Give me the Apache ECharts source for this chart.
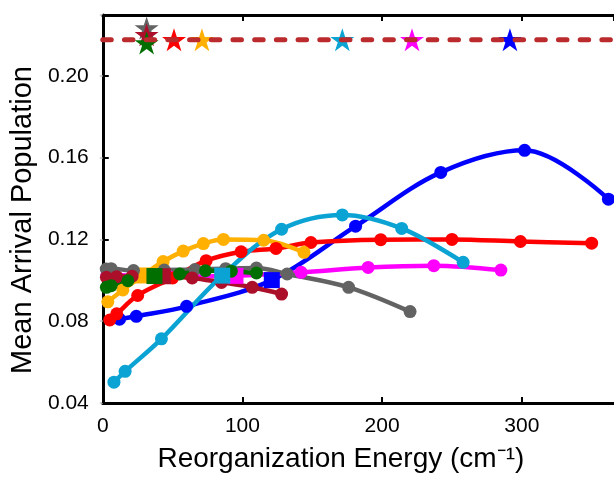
<!DOCTYPE html>
<html>
<head>
<meta charset="utf-8">
<script src="https://cdn.jsdelivr.net/npm/echarts@6/dist/echarts.min.js"></script>
<style>
  html, body { margin: 0; padding: 0; background: #ffffff; }
  #chart { width: 614px; height: 478px; }
</style>
</head>
<body>
<div id="chart"></div>
<script>
// Mean arrival population versus reorganization energy, one curve per system.
const blueX = [12, 24, 60, 121, 181, 242, 302, 362];
const blueY = [0.0810, 0.0824, 0.0873, 0.1001, 0.1265, 0.1528, 0.1636, 0.1397];

const redX = [5, 10, 25, 50, 74, 99, 124, 149, 199, 250, 299, 350];
const redY = [0.0806, 0.0836, 0.0926, 0.1012, 0.1096, 0.1140, 0.1156, 0.1185, 0.1199, 0.1200, 0.1190, 0.1182];

const orangeX = [3.6, 14.4, 28.8, 43.2, 57.6, 72, 86.4, 115.2, 144];
const orangeY = [0.0895, 0.0953, 0.1024, 0.1092, 0.1143, 0.1180, 0.1200, 0.1196, 0.1137];

const cyanX = [8, 16, 42, 85.5, 128, 171.5, 214, 258];
const cyanY = [0.0502, 0.0555, 0.0714, 0.1023, 0.1250, 0.1320, 0.1254, 0.1088];

const magentaX = [3, 47.5, 95, 142, 190, 237, 285];
const magentaY = [0.1028, 0.1018, 0.1022, 0.1039, 0.1063, 0.1072, 0.1050];

const grayX = [2.5, 6, 22, 44, 66, 88, 110, 132, 176, 220];
const grayY = [0.1055, 0.1057, 0.1048, 0.1050, 0.1053, 0.1057, 0.1060, 0.1031, 0.0966, 0.0847];

const darkRedX = [2.6, 10, 21, 43, 64, 85, 107, 128];
const darkRedY = [0.1015, 0.1018, 0.1020, 0.1020, 0.1012, 0.0990, 0.0966, 0.0933];

const greenX = [2.6, 6, 18, 37, 55, 73.5, 92, 110];
const greenY = [0.0966, 0.0974, 0.0998, 0.1021, 0.1031, 0.1047, 0.1045, 0.1036];

// Optimum of each curve, marked by a star in its colour along the reference level
const blueStar = [291.5, 0.2177];
const redStar = [51, 0.2177];
const orangeStar = [71, 0.2177];
const cyanStar = [171.5, 0.2177];
const magentaStar = [221.4, 0.2177];
const grayStar = [31.4, 0.2234];
const darkRedStar = [31.4, 0.2201];
const greenStar = [31.4, 0.2161];

const referenceLevel = 0.2177;

// Axis ranges and tick labels
const xMin = 0, xMax = 366, xStep = 100;
const yMin = 0.04, yMax = 0.2298, yStep = 0.04;
const yTickLabels = ['0.04', '0.08', '0.12', '0.16', '0.20'];
const xTitle = 'Reorganization Energy (cm\u207B\u00B9)';
const yTitle = 'Mean Arrival Population';

const FONT = "'Liberation Sans', Arial, Helvetica, sans-serif";

const curves = [
  { x: blueX, y: blueY, square: 3, color: '#0000ff', star: blueStar },
  { x: magentaX, y: magentaY, square: 2, color: '#ff00ff', star: magentaStar },
  { x: redX, y: redY, square: -1, color: '#ff0000', star: redStar },
  { x: orangeX, y: orangeY, square: 2, color: '#ffb000', star: orangeStar },
  { x: grayX, y: grayY, square: -1, color: '#636363', star: grayStar },
  { x: darkRedX, y: darkRedY, square: 3, color: '#ab0f2a', star: darkRedStar },
  { x: greenX, y: greenY, square: 3, color: '#006f00', star: greenStar },
  { x: cyanX, y: cyanY, square: 3, color: '#0aa3d3', star: cyanStar }
];

const starPath = 'path://M50 0 L61.8 36.2 L100 36.2 L69.1 58.6 L80.9 95.1 L50 72.7 L19.1 95.1 L30.9 58.6 L0 36.2 L38.2 36.2 Z';

const series = [];

curves.forEach(c => {
  series.push({
    type: 'line',
    smooth: 0.35,
    clip: false,
    symbol: 'circle',
    symbolSize: 13,
    color: c.color,
    lineStyle: { width: 4.5, color: c.color },
    itemStyle: { color: c.color, opacity: 1 },
    data: c.x.map((xv, i) => i === c.square
      ? { value: [xv, c.y[i]], symbol: 'rect', symbolSize: 16 }
      : [xv, c.y[i]]),
    animation: false,
    silent: true
  });
});

// Reference level: dashed line across the full x range
series.push({
  type: 'line',
  symbol: 'none',
  clip: false,
  data: [[xMin, referenceLevel], [xMax, referenceLevel]],
  lineStyle: { color: '#bb2a2c', width: 5, type: [8.5, 13.2], cap: 'round' },
  animation: false,
  silent: true
});

// Stars (grey, dark red and green overlap, so those go last in that order)
const starOrder = [0, 1, 2, 3, 7, 4, 5, 6];
starOrder.forEach(k => {
  const c = curves[k];
  series.push({
    type: 'scatter',
    symbol: starPath,
    symbolSize: [24, 23],
    clip: false,
    itemStyle: { color: c.color, opacity: 1 },
    data: [c.star],
    animation: false,
    silent: true
  });
});

const axisText = { fontFamily: FONT, fontSize: 21, color: '#000000' };
const inwardTick = { show: true, inside: true, length: 6, lineStyle: { color: '#000000', width: 2 } };

const chart = echarts.init(document.getElementById('chart'), null, { renderer: 'canvas' });
chart.setOption({
  backgroundColor: '#ffffff',
  animation: false,
  grid: { left: 101, right: 0, top: 15, bottom: 71.5, containLabel: false },
  xAxis: [
    {
      type: 'value',
      min: xMin, max: xMax, interval: xStep,
      position: 'bottom',
      name: xTitle,
      nameLocation: 'middle',
      nameGap: 42,
      nameTextStyle: { fontFamily: FONT, fontSize: 28, color: '#000000', padding: [0, 35, 0, 0] },
      axisLine: { show: true, lineStyle: { color: '#000000', width: 3 } },
      axisTick: inwardTick,
      axisLabel: Object.assign({ margin: 13, showMaxLabel: false }, axisText),
      splitLine: { show: false }
    },
    {
      type: 'value',
      min: xMin, max: xMax, interval: xStep,
      position: 'top',
      axisLine: { show: true, lineStyle: { color: '#000000', width: 3 } },
      axisTick: inwardTick,
      axisLabel: { show: false },
      splitLine: { show: false }
    }
  ],
  yAxis: [
    {
      type: 'value',
      min: yMin, max: yMax, interval: yStep,
      position: 'left',
      name: yTitle,
      nameLocation: 'middle',
      nameGap: 58,
      nameTextStyle: { fontFamily: FONT, fontSize: 29, color: '#000000', padding: [0, 22, 0, 0] },
      axisLine: { show: true, lineStyle: { color: '#000000', width: 3 } },
      axisTick: inwardTick,
      axisLabel: Object.assign({
        margin: 14,
        showMaxLabel: false,
        formatter: v => {
          const idx = Math.round((v - yMin) / yStep);
          return Math.abs(yMin + idx * yStep - v) < 1e-9 && yTickLabels[idx] ? yTickLabels[idx] : '';
        }
      }, axisText),
      splitLine: { show: false }
    },
    {
      // faint tick marks along the right border
      type: 'value',
      min: yMin, max: yMax, interval: yStep,
      position: 'right',
      axisLine: { show: false },
      axisTick: { show: true, inside: true, length: 3, lineStyle: { color: '#c4c4c4', width: 1.5 } },
      axisLabel: { show: false },
      splitLine: { show: false }
    }
  ],
  series: series
});
</script>
</body>
</html>
